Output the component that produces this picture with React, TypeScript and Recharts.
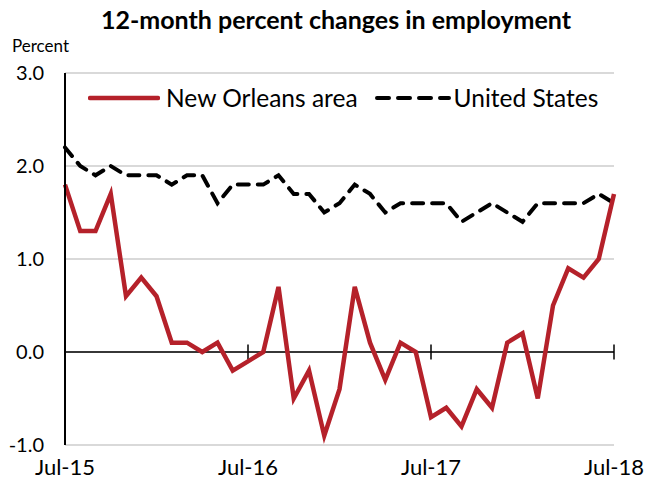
import React from 'react';
import { LineChart, Line, XAxis, YAxis, CartesianGrid, ReferenceLine } from 'recharts';

// monthly, Jul-15 .. Jul-18
const months = [
  'Jul-15', 'Aug-15', 'Sep-15', 'Oct-15', 'Nov-15', 'Dec-15',
  'Jan-16', 'Feb-16', 'Mar-16', 'Apr-16', 'May-16', 'Jun-16',
  'Jul-16', 'Aug-16', 'Sep-16', 'Oct-16', 'Nov-16', 'Dec-16',
  'Jan-17', 'Feb-17', 'Mar-17', 'Apr-17', 'May-17', 'Jun-17',
  'Jul-17', 'Aug-17', 'Sep-17', 'Oct-17', 'Nov-17', 'Dec-17',
  'Jan-18', 'Feb-18', 'Mar-18', 'Apr-18', 'May-18', 'Jun-18',
  'Jul-18',
];

const newOrleans = [
  1.8, 1.3, 1.3, 1.7, 0.6, 0.8, 0.6, 0.1, 0.1, 0.0, 0.1, -0.2,
  -0.1, 0.0, 0.7, -0.5, -0.2, -0.9, -0.4, 0.7, 0.1, -0.3, 0.1, 0.0,
  -0.7, -0.6, -0.8, -0.4, -0.6, 0.1, 0.2, -0.5, 0.5, 0.9, 0.8, 1.0,
  1.7,
];

const unitedStates = [
  2.2, 2.0, 1.9, 2.0, 1.9, 1.9, 1.9, 1.8, 1.9, 1.9, 1.6, 1.8,
  1.8, 1.8, 1.9, 1.7, 1.7, 1.5, 1.6, 1.8, 1.7, 1.5, 1.6, 1.6,
  1.6, 1.6, 1.4, 1.5, 1.6, 1.5, 1.4, 1.6, 1.6, 1.6, 1.6, 1.7,
  1.6,
];

const xTicks = ['Jul-15', 'Jul-16', 'Jul-17', 'Jul-18'];
const yTicks = [-1, 0, 1, 2, 3];

const RED = '#B5212A';
const FONT = 'Lato, "Open Sans", sans-serif';
const DASH = '11 9';

const data = months.map((m, i) => ({
  month: m,
  nola: newOrleans[i],
  us: unitedStates[i],
}));

const App = () => {
  return (
    <div style={{ position: 'absolute', top: 0, left: 0, width: 647, height: 479, background: '#fff', fontFamily: FONT }}>
      <div style={{ position: 'absolute', top: 4, left: 0, width: 672, textAlign: 'center', fontWeight: 700, fontSize: 25, color: '#000', whiteSpace: 'nowrap' }}>
        12-month percent changes in employment
      </div>
      <div style={{ position: 'absolute', top: 35, left: 12, fontSize: 17, color: '#000' }}>Percent</div>

      <LineChart width={647} height={479} data={data} margin={{ top: 73, right: 33, bottom: 0, left: 0 }}>
        <CartesianGrid vertical={false} stroke="#d9d9d9" strokeWidth={2} />
        <XAxis
          dataKey="month"
          scale="point"
          ticks={xTicks}
          interval={0}
          height={34}
          axisLine={{ stroke: '#d9d9d9', strokeWidth: 2 }}
          tickLine={false}
          tickSize={0}
          tickMargin={14}
          tick={{ fontSize: 22, fill: '#000', fontFamily: FONT }}
        />
        <YAxis
          domain={[-1, 3]}
          ticks={yTicks}
          width={65}
          interval={0}
          axisLine={{ stroke: '#000', strokeWidth: 2 }}
          tickLine={false}
          tickSize={0}
          tickMargin={21}
          tickFormatter={(v: number) => v.toFixed(1)}
          tick={{ fontSize: 20, fill: '#000', fontFamily: FONT }}
        />
        <YAxis
          yAxisId="right"
          orientation="right"
          domain={[-1, 3]}
          width={0}
          tick={false}
          tickLine={false}
          axisLine={{ stroke: '#d9d9d9', strokeWidth: 2 }}
        />
        <ReferenceLine y={0} stroke="#000" strokeWidth={1.5} />
        {xTicks.slice(1).map((t) => (
          <ReferenceLine
            key={t}
            segment={[{ x: t, y: -0.08 }, { x: t, y: 0.08 }]}
            stroke="#000"
            strokeWidth={1.5}
          />
        ))}
        <Line
          dataKey="us"
          name="United States"
          stroke="#000"
          strokeWidth={4}
          strokeDasharray={DASH}
          strokeLinecap="round"
          dot={false}
          isAnimationActive={false}
        />
        <Line
          dataKey="nola"
          name="New Orleans area"
          stroke={RED}
          strokeWidth={4.5}
          dot={false}
          isAnimationActive={false}
        />
      </LineChart>

      <div style={{ position: 'absolute', top: 83, left: 88, display: 'flex', alignItems: 'center', fontSize: 24.5, color: '#000', whiteSpace: 'nowrap' }}>
        <svg width={72} height={10}><line x1={2} y1={5} x2={70} y2={5} stroke={RED} strokeWidth={4.5} strokeLinecap="round" /></svg>
        <span style={{ marginLeft: 6 }}>New Orleans area</span>
        <svg width={76} height={10} style={{ marginLeft: 17 }}><line x1={2} y1={5} x2={74} y2={5} stroke="#000" strokeWidth={4} strokeDasharray="12 9" strokeLinecap="round" /></svg>
        <span style={{ marginLeft: 3 }}>United States</span>
      </div>
    </div>
  );
};

export default App;
